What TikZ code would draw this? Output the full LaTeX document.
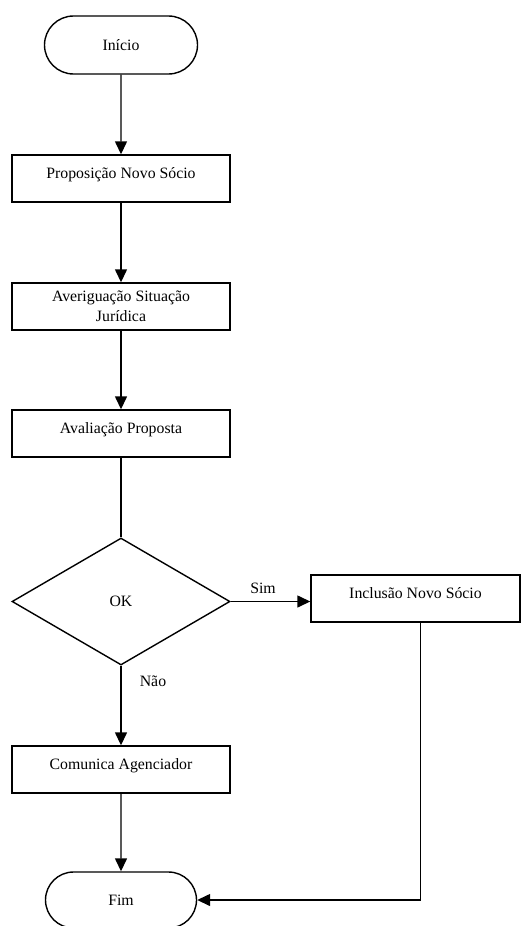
\documentclass[tikz,border=0pt]{standalone}
\usepackage{fontspec}
\setmainfont{Liberation Serif}
\usetikzlibrary{arrows.meta,shapes.geometric,shapes.misc}
\begin{document}
\begin{tikzpicture}[x=1pt,y=-1pt,
  line width=1.4pt,
  every node/.style={font=\fontsize{15.8}{20}\selectfont},
  terminal/.style={draw,rounded rectangle,minimum width=153pt,minimum height=58pt,inner sep=0pt},
  procbox/.style={draw,rectangle,minimum width=218pt,minimum height=47pt,inner sep=0pt,text height=10pt,text depth=10pt},
  procbox2/.style={draw,rectangle,minimum width=218pt,minimum height=47pt,inner sep=0pt,align=center},
  decision/.style={draw,diamond,minimum width=218pt,minimum height=127pt,inner sep=0pt,aspect=1.72},
  flow/.style={-{Triangle[width=12pt,length=13pt]}},
  tag/.style={inner sep=0pt}]
  \useasboundingbox (0,0) rectangle (522,926);

  % nodes of the flow
  \node[terminal] (inicio) at (121,45) {Início};
  \node[procbox] (prop) at (121,178.5) {Proposição Novo Sócio};
  \node[procbox2] (aver) at (121,306.5) {Averiguação Situação\\Jurídica};
  \node[procbox] (aval) at (121,433.5) {Avaliação Proposta};
  \node[decision] (ok) at (121,601.5) {OK};
  \node[procbox,minimum width=209pt] (incl) at (415.5,598.5) {Inclusão Novo Sócio};
  \node[procbox] (com) at (121,769.5) {Comunica Agenciador};
  \node[terminal,minimum width=151pt,minimum height=56pt] (fim) at (121,900) {Fim};

  % branch labels
  \node[tag] (sim) at (263,588) {Sim};
  \node[tag] (nao) at (153,681) {Não};

  % connectors
  \draw[flow] (inicio) -- (prop);
  \draw[flow] (prop) -- (aver);
  \draw[flow] (aver) -- (aval);
  \draw (aval) -- (ok);
  \draw[flow] (ok.east) -- (incl.west |- ok.east);
  \draw[flow] (ok) -- (com);
  \draw[flow] (com) -- (fim);
  \draw[flow] ([xshift=5pt]incl.south) |- (fim.east);
\end{tikzpicture}
\end{document}
